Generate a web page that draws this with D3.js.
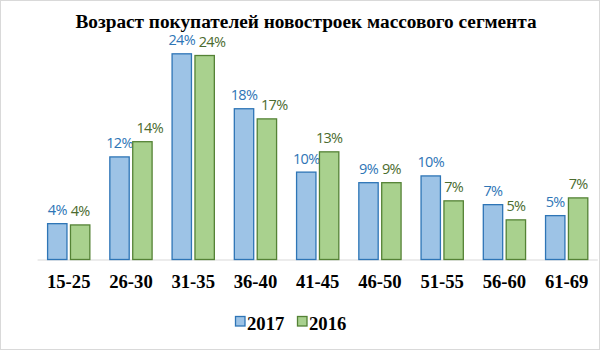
<!DOCTYPE html>
<html>
<head>
<meta charset="utf-8">
<script src="https://cdn.jsdelivr.net/npm/d3@7"></script>
<style>
  body { margin: 0; background: #fff; }
</style>
</head>
<body>
<div id="chart"></div>
<script>
// Age groups and shares (%)
const categories = ['15-25', '26-30', '31-35', '36-40', '41-45', '46-50', '51-55', '56-60', '61-69'];
const values2017 = [4.3, 12.2, 24.4, 17.9, 10.4, 9.15, 9.95, 6.55, 5.25];
const values2016 = [4.15, 14.0, 24.2, 16.7, 12.8, 9.15, 7.0, 4.75, 7.35];
const seriesNames = ['2017', '2016'];
const titleText = 'Возраст покупателей новостроек массового сегмента';

const width = 603, height = 352;
const svg = d3.select('#chart').append('svg')
    .attr('width', width)
    .attr('height', height);

// Outer chart border
svg.append('rect')
    .attr('x', 0.5).attr('y', 0.5)
    .attr('width', 599).attr('height', 349)
    .attr('fill', '#fff')
    .attr('stroke', '#D9D9D9');

// Title
svg.append('text')
    .attr('x', 306)
    .attr('y', 28)
    .attr('text-anchor', 'middle')
    .style('font-family', '"Liberation Serif", "Times New Roman", serif')
    .style('font-weight', 'bold')
    .style('font-size', '19.3px')
    .text(titleText);

const series = [
    { name: seriesNames[0], values: values2017, fill: '#9DC3E6', stroke: '#2E75B6', text: '#2E75B6' },
    { name: seriesNames[1], values: values2016, fill: '#A9D18E', stroke: '#548235', text: '#4B6B2E' }
];

// Scales
const x = d3.scaleBand()
    .domain(categories)
    .range([37.6, 597.8])
    .paddingInner(0.305)
    .paddingOuter(0.1525);

const xSub = d3.scaleBand()
    .domain(seriesNames)
    .range([0, x.bandwidth()])
    .paddingInner(0.11);

const y = d3.scaleLinear()
    .domain([0, 30])
    .range([259.5, 6]);

// Category axis line
svg.append('line')
    .attr('x1', 37.6).attr('x2', 597.8)
    .attr('y1', y(0) + 0.5).attr('y2', y(0) + 0.5)
    .attr('stroke', '#D9D9D9')
    .attr('stroke-width', 1);

// Bars and value labels
const labelGroups = [];
series.forEach(s => {
    const g = svg.append('g');
    g.selectAll('rect')
        .data(s.values)
        .enter()
        .append('rect')
        .attr('x', (d, i) => x(categories[i]) + xSub(s.name) + 0.5)
        .attr('y', d => y(d) + 0.5)
        .attr('width', xSub.bandwidth() - 1)
        .attr('height', d => y(0) - y(d) - 0.5)
        .attr('fill', s.fill)
        .attr('stroke', s.stroke)
        .attr('stroke-width', 1.3);

    const labels = g.selectAll('text')
        .data(s.values)
        .enter()
        .append('text')
        .attr('x', (d, i) => x(categories[i]) + xSub(s.name) + xSub.bandwidth() / 2)
        .attr('y', d => y(d) - 8)
        .attr('text-anchor', 'middle')
        .style('font-family', '"Open Sans", Lato, sans-serif')
        .style('font-size', '14.5px')
        .style('letter-spacing', '-0.7px')
        .style('fill', s.text)
        .text(d => Math.round(d) + '%');
    labelGroups.push(labels.nodes());
});

// Push the second label right when it collides with the first (like Excel does)
categories.forEach((c, i) => {
    const a = labelGroups[0][i], b = labelGroups[1][i];
    const ba = a.getBBox(), bb = b.getBBox();
    const vOverlap = ba.y < bb.y + bb.height && bb.y < ba.y + ba.height;
    const shift = ba.x + ba.width + 3 - bb.x;
    if (vOverlap && shift > 0) {
        b.setAttribute('x', +b.getAttribute('x') + shift);
    }
});

// Category labels
svg.append('g')
    .selectAll('text')
    .data(categories)
    .enter()
    .append('text')
    .attr('x', d => x(d) + x.bandwidth() / 2)
    .attr('y', 288)
    .attr('text-anchor', 'middle')
    .style('font-family', '"Liberation Serif", "Times New Roman", serif')
    .style('font-weight', 'bold')
    .style('font-size', '18.67px')
    .text(d => d);

// Legend
const legendX = [235, 297];
series.forEach((s, i) => {
    svg.append('rect')
        .attr('x', legendX[i] + 0.5)
        .attr('y', 316.5)
        .attr('width', 9.5)
        .attr('height', 9.5)
        .attr('fill', s.fill)
        .attr('stroke', s.stroke)
        .attr('stroke-width', 1.3);
    svg.append('text')
        .attr('x', legendX[i] + 12)
        .attr('y', 330)
        .style('font-family', '"Liberation Serif", "Times New Roman", serif')
        .style('font-weight', 'bold')
        .style('font-size', '18.67px')
        .text(s.name);
});
</script>
</body>
</html>
